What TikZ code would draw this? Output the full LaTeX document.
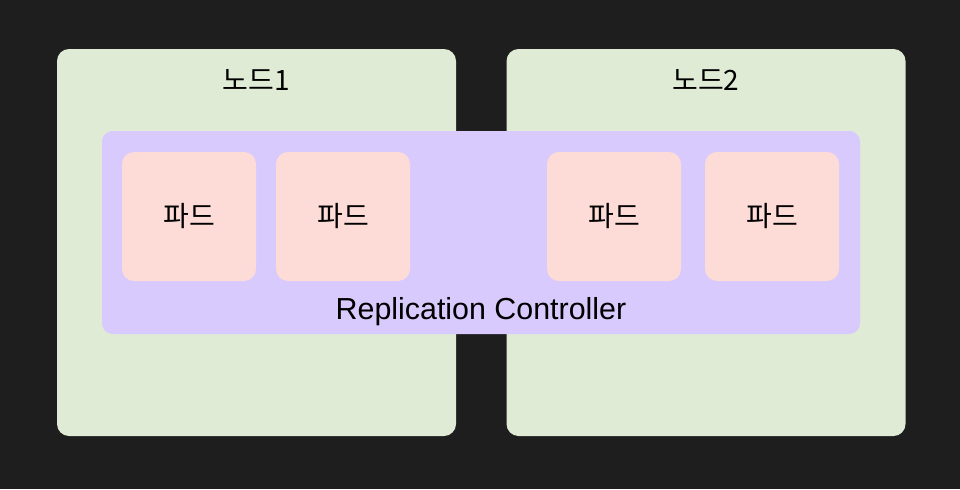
\documentclass[tikz,border=0pt]{standalone}
\usepackage{fontspec}
\setmainfont{Liberation Sans}
\newfontfamily\kor{Noto Sans CJK KR}
\definecolor{bgdark}{HTML}{1E1E1E}
\definecolor{hostgreen}{HTML}{E0EBD5}
\definecolor{rcpurple}{HTML}{D8CAFC}
\definecolor{podpink}{HTML}{FDDBD6}
\begin{document}
\begin{tikzpicture}[x=0.75pt, y=-0.75pt,
    host/.style={fill=hostgreen, rounded corners=9pt, minimum width=299.25pt, minimum height=290.25pt, inner sep=0pt},
    rcbox/.style={fill=rcpurple, rounded corners=8pt, minimum width=568.5pt, minimum height=152.25pt, inner sep=0pt},
    pod/.style={fill=podpink, rounded corners=9pt, minimum width=100.5pt, minimum height=96.75pt, inner sep=0pt, font=\kor\fontsize{21}{25}\selectfont},
    title/.style={font=\kor\fontsize{21}{25}\selectfont, inner sep=0pt}]

        \fill[bgdark] (0,0) rectangle (960,489);
        \useasboundingbox (0,0) rectangle (960,489);

        % nodes
        \node[host] (node1) at (256.5, 242.5) {};
        \node[host] (node2) at (706, 242.5) {};
        \node[title] (label1) at (256.5, 80) {노드1};
        \node[title] (label2) at (706, 80) {노드2};

        % replication controller
        \node[rcbox] (rc) at (481, 232.5) {};
        \node[font=\fontsize{22.8}{27}\selectfont, inner sep=0pt] (rclabel) at (481, 312) {Replication Controller};

        % pods
        \node[pod] (pod1) at (189, 216.5) {파드};
        \node[pod] (pod2) at (343, 216.5) {파드};
        \node[pod] (pod3) at (614, 216.5) {파드};
        \node[pod] (pod4) at (772, 216.5) {파드};
\end{tikzpicture}
\end{document}
